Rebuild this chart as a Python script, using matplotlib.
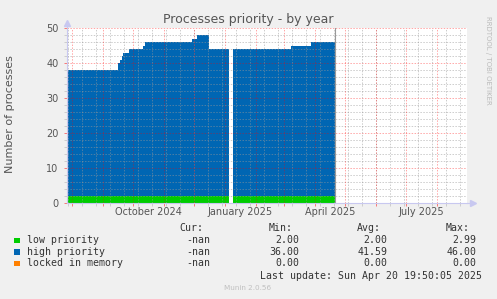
import pandas as pd
import matplotlib
matplotlib.use('Agg')
import matplotlib.pyplot as plt
from matplotlib.patches import Rectangle
import matplotlib.transforms as mtransforms

# data (step changes, two segments around the gap)
seg_a_dates = ['2024-07-20', '2024-09-16', '2024-09-18', '2024-09-20', '2024-09-21',
               '2024-09-27', '2024-10-11', '2024-10-13', '2024-11-29', '2024-12-04',
               '2024-12-16', '2025-01-05 06:00']
seg_a_high = [36, 38, 39, 40, 41, 42, 43, 44, 45, 46, 42, 42]
seg_b_dates = ['2025-01-08 18:00', '2025-03-08', '2025-03-28', '2025-04-20 19:50']
seg_b_high = [42, 43, 44, 44]
low_level = 2

series_names = ['low priority', 'high priority', 'locked in memory']
series_colors = ['#00cc00', '#0066b3', '#ff8000']
cur_vals = ['-nan', '-nan', '-nan']
min_vals = ['2.00', '36.00', '0.00']
avg_vals = ['2.00', '41.59', '0.00']
max_vals = ['2.99', '46.00', '0.00']

x_start = pd.Timestamp('2024-07-27')
x_end = x_start + pd.Timedelta(days=400)
last_update = pd.Timestamp('2025-04-20 19:50:05')
label_months = ['2024-10-01', '2025-01-01', '2025-04-01', '2025-07-01']

W, H = 497, 299
fig = plt.figure(figsize=(W / 100, H / 100), dpi=100, facecolor='#f0f0f0')
ax = fig.add_axes([67 / W, 1 - 203.3 / H, 400 / W, 175 / H])
ax.set_facecolor('white')

for dates, high in [(seg_a_dates, seg_a_high), (seg_b_dates, seg_b_high)]:
    d = pd.to_datetime(dates, format='mixed')
    low = [low_level] * len(d)
    top = [l + h for l, h in zip(low, high)]
    ax.fill_between(d, 0, low, step='post', color=series_colors[0], lw=0, zorder=1)
    ax.fill_between(d, low, top, step='post', color=series_colors[1], lw=0, zorder=1)

ax.set_xlim(x_start, x_end)
ax.set_ylim(0, 50)

# grid: minor every 2 units / 14 days, major every 10 units / month
red = (1, 0, 0, 0.35)
grey = (0.6, 0.6, 0.6, 0.5)
for v in range(2, 50, 2):
    ax.axhline(v, color=red if v % 10 == 0 else grey, lw=0.7, ls=(0, (1.5, 1.5)), zorder=3)
ax.axhline(50, color=red, lw=0.7, ls=(0, (1.5, 1.5)), zorder=3)
months = pd.date_range('2024-08-01', '2025-08-01', freq='MS')
fortnights = pd.date_range('2024-07-28', x_end, freq='14D')
for d in fortnights:
    ax.axvline(d, color=grey, lw=0.7, ls=(0, (1.5, 1.5)), zorder=3)
for d in months:
    ax.axvline(d, color=red, lw=0.7, ls=(0, (1.5, 1.5)), zorder=3)
ax.axvline(last_update, color='#999999', lw=0.8, zorder=4)

ax.set_xticks(months)
ax.set_xticklabels([])
ax.set_xticks(fortnights, minor=True)
ax.set_yticks(range(0, 51, 10))
ax.set_yticks(range(0, 51, 2), minor=True)
ax.tick_params(which='major', length=2, width=0.7, color=(1, 0, 0, 0.5), labelsize=7,
               labelcolor='#555555', pad=4)
ax.tick_params(which='minor', length=2, width=0.7, color='#cccccc')

for s in ['top', 'right']:
    ax.spines[s].set_visible(False)
for s in ['left', 'bottom']:
    ax.spines[s].set_color('#c8c8f0')
    ax.spines[s].set_linewidth(0.8)
    ax.spines[s].set_zorder(5)
ax.plot([0, 0], [1, 1.03], color='#c8c8f0', lw=0.8, transform=ax.transAxes, clip_on=False)
ax.plot([1, 1.015], [0, 0], color='#c8c8f0', lw=0.8, transform=ax.transAxes, clip_on=False)
ax.plot([0], [1.03], marker='^', ms=4, color='#c8c8f0', transform=ax.transAxes, clip_on=False)
ax.plot([1.015], [0], marker='>', ms=4, color='#c8c8f0', transform=ax.transAxes, clip_on=False)

trans = mtransforms.blended_transform_factory(ax.transData, ax.transAxes)
for m in label_months:
    t = pd.Timestamp(m)
    ax.text(t + pd.Timedelta(days=15), -0.048, t.strftime('%B %Y'), transform=trans,
            ha='center', va='center', fontsize=7, color='#555555')

fig.text(248 / W, 1 - 19 / H, 'Processes priority - by year', ha='center', va='center',
         fontsize=9, color='#555555')
fig.text(10.5 / W, 1 - 114 / H, 'Number of processes', rotation=90, ha='center', va='center',
         fontsize=8, color='#555555')
fig.text(488 / W, 1 - 60 / H, 'RRDTOOL / TOBI OETIKER', rotation=270, ha='center', va='center',
         fontsize=5, color='#bbbbbb')

mono = dict(family='DejaVu Sans Mono', fontsize=7.1, color='#333333', va='center')
def px(x, y):
    return x / W, 1 - y / H

fig.text(*px(203.3, 228), 'Cur:', ha='right', **mono)
fig.text(*px(292.7, 228), 'Min:', ha='right', **mono)
fig.text(*px(381, 228), 'Avg:', ha='right', **mono)
fig.text(*px(470, 228), 'Max:', ha='right', **mono)
for i, name in enumerate(series_names):
    y = 240 + i * 11.65
    fig.add_artist(Rectangle(px(14, y + 3), 5.5 / W, 5.5 / H, transform=fig.transFigure,
                             color=series_colors[i], lw=0))
    fig.text(*px(26.7, y), name, ha='left', **mono)
    fig.text(*px(210.7, y), cur_vals[i], ha='right', **mono)
    fig.text(*px(299.3, y), min_vals[i], ha='right', **mono)
    fig.text(*px(387.7, y), avg_vals[i], ha='right', **mono)
    fig.text(*px(476.7, y), max_vals[i], ha='right', **mono)
fig.text(*px(482.3, 275.7), 'Last update: Sun Apr 20 19:50:05 2025', ha='right', **mono)
fig.text(*px(248, 287.7), 'Munin 2.0.56', ha='center', va='center', fontsize=5.2, color='#c0c0c0')

fig.savefig('out.png', dpi=100, facecolor=fig.get_facecolor())
